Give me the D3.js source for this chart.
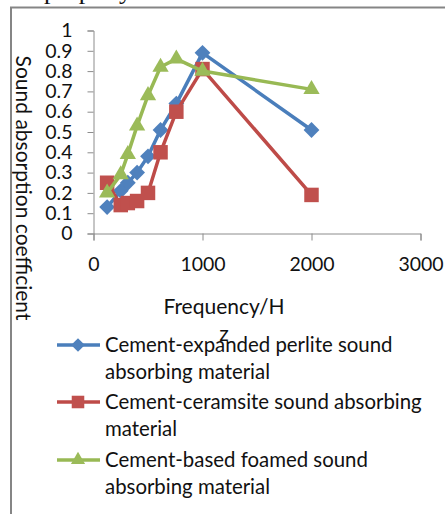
<!DOCTYPE html>
<html><head><meta charset="utf-8">
<script src="https://cdn.jsdelivr.net/npm/d3@7"></script>
<style>
html,body{margin:0;padding:0;background:#fff;overflow:hidden}
svg{display:block}
text{font-family:Lato,"Open Sans",sans-serif;fill:#111}
</style></head>
<body>
<svg id="c" width="445" height="514"></svg>
<script>
const frequencies = [125, 250, 315, 400, 500, 615, 760, 1000, 2000];
const perliteValues = [0.13, 0.21, 0.25, 0.30, 0.38, 0.51, 0.64, 0.89, 0.51];
const ceramsiteValues = [0.25, 0.14, 0.15, 0.16, 0.20, 0.40, 0.60, 0.81, 0.19];
const foamedValues = [0.20, 0.29, 0.39, 0.53, 0.68, 0.82, 0.86, 0.80, 0.71];
const seriesNames = [
  ["Cement-expanded perlite sound", "absorbing material"],
  ["Cement-ceramsite sound absorbing", "material"],
  ["Cement-based foamed sound", "absorbing material"]
];
const xTicks = [0, 1000, 2000, 3000];
const yTicks = [0, 0.1, 0.2, 0.3, 0.4, 0.5, 0.6, 0.7, 0.8, 0.9, 1];
const xTitle = ["Frequency/H", "z"];
const yTitle = "Sound absorption coefficient";

const svg = d3.select("#c");
const x = d3.scaleLinear().domain([0, 3000]).range([93.5, 420.5]);
const y = d3.scaleLinear().domain([0, 1]).range([233.5, 30.5]);

// clipped text from page above
svg.append("text").attr("x", 44).attr("y", -1)
  .style("font-family", "'Liberation Serif',serif").style("font-size", "26px").text("property.");

// frame
svg.append("path").attr("d", "M11,514V7.5H445").attr("fill", "none")
  .attr("stroke", "#858585").attr("stroke-width", 2);

const axisColor = "#8c8c8c";
const yAxis = d3.axisLeft(y).tickValues(yTicks).tickSize(6).tickPadding(15)
  .tickFormat(d => d === 0 ? "0" : d === 1 ? "1" : d3.format(".1f")(d));
const gy = svg.append("g").attr("transform", "translate(93.5,0)").call(yAxis);
const xAxis = d3.axisBottom(x).tickValues(xTicks).tickSize(7).tickPadding(12).tickFormat(d3.format("d"));
const gx = svg.append("g").attr("transform", "translate(0,233.5)").call(xAxis);
[gx, gy].forEach(g => {
  g.selectAll("path,line").attr("stroke", axisColor);
  g.selectAll("text").style("font-family", "Lato,sans-serif").style("font-size", "19.5px").attr("fill", "#111");
});
gx.selectAll("text").attr("dy", "0.95em");

// titles
svg.append("text").attr("transform", "translate(16,188) rotate(90)").attr("text-anchor", "middle")
  .style("font-size", "21px").text(yTitle);
svg.append("text").attr("x", 224).attr("y", 314).attr("text-anchor", "middle").style("font-size", "21px").text(xTitle[0]);
svg.append("text").attr("x", 224).attr("y", 341).attr("text-anchor", "middle").style("font-size", "21px").text(xTitle[1]);

const series = [
  {vals: perliteValues, color: "#4A7EBB", fill: "#4F81BD", sym: d3.symbolSquare, size: 125, rot: 45},
  {vals: ceramsiteValues, color: "#BE4B48", fill: "#C0504D", sym: d3.symbolSquare, size: 210, rot: 0},
  {vals: foamedValues, color: "#98B954", fill: "#9BBB59", sym: d3.symbolTriangle, size: 115, rot: 0}
];
const line = d3.line().x(d => x(d[0])).y(d => y(d[1]));
series.forEach(s => {
  const pts = frequencies.map((f, i) => [f, s.vals[i]]);
  svg.append("path").datum(pts).attr("d", line).attr("fill", "none")
    .attr("stroke", s.color).attr("stroke-width", 3.5).attr("stroke-linejoin", "round");
  svg.append("g").selectAll("path").data(pts).join("path")
    .attr("d", d3.symbol(s.sym, s.size))
    .attr("transform", d => `translate(${x(d[0])},${y(d[1])}) rotate(${s.rot})`)
    .attr("fill", s.fill);
});

// legend
const rowsY = [345, 402, 460];
series.forEach((s, i) => {
  const g = svg.append("g").attr("transform", `translate(0,${rowsY[i]})`);
  g.append("line").attr("x1", 57).attr("x2", 100).attr("stroke", s.color).attr("stroke-width", 3.5);
  g.append("path").attr("d", d3.symbol(s.sym, s.size * 0.75)).attr("transform", `translate(78,0) rotate(${s.rot})`).attr("fill", s.fill);
  seriesNames[i].forEach((t, j) => {
    g.append("text").attr("x", 105).attr("y", 7 + j * 26.7).style("font-size", "20.4px").text(t);
  });
});
</script>
</body></html>
